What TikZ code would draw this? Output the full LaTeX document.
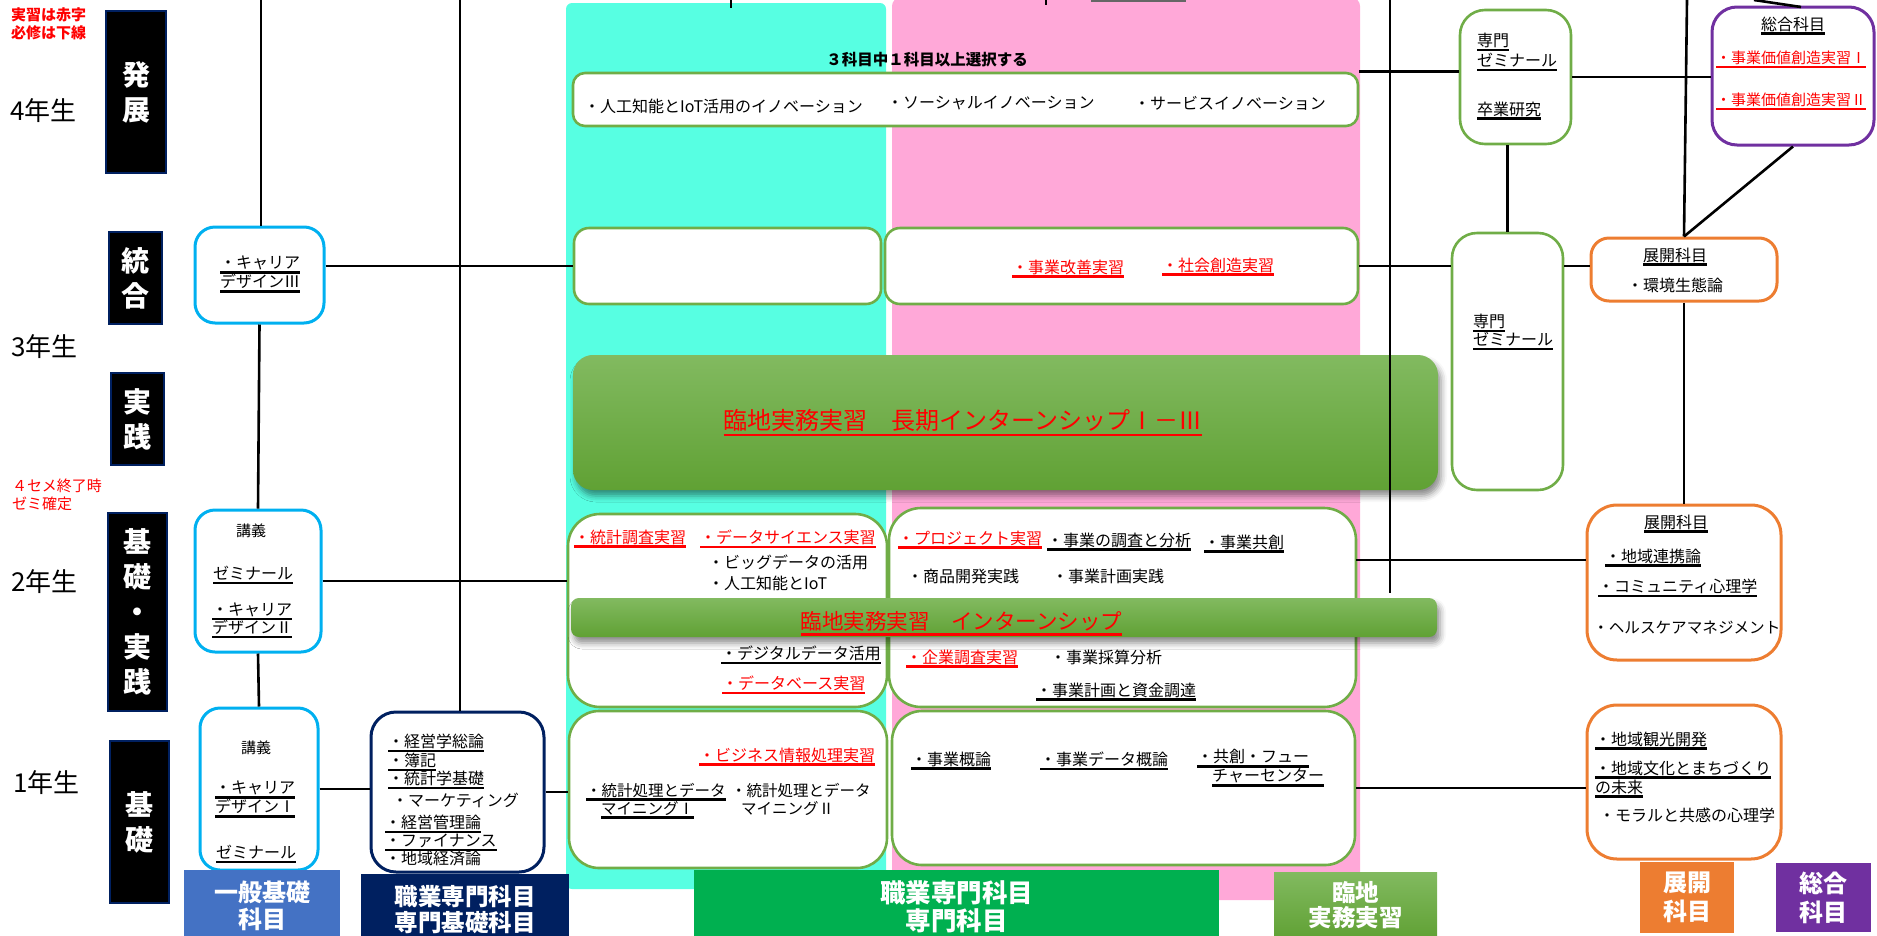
\documentclass[tikz,border=0pt]{standalone}
\usepackage{fontspec}
\setmainfont{Noto Sans CJK JP}
\usetikzlibrary{shadows,shadows.blur}
\definecolor{cyanP}{RGB}{87,255,226}
\definecolor{pinkP}{RGB}{255,168,216}
\definecolor{gB}{RGB}{112,173,71}
\definecolor{bB}{RGB}{0,176,240}
\definecolor{nB}{RGB}{0,32,96}
\definecolor{oB}{RGB}{237,125,49}
\definecolor{pB}{RGB}{112,48,160}
\definecolor{lbB}{RGB}{68,114,196}
\definecolor{gL}{RGB}{0,176,80}
\definecolor{gTop}{RGB}{130,186,96}
\definecolor{gBot}{RGB}{96,161,52}
\definecolor{rd}{RGB}{255,0,0}
\newcommand\ulx[1]{\leavevmode\setbox0=\hbox{#1}\rlap{\smash{\rule[-0.3em]{\wd0}{2.4pt}}}\box0}
\tikzset{
 bx/.style={draw, line width=2.6pt, fill=white, rectangle, inner sep=0},
 gbox/.style={bx, draw=gB},
 bbox/.style={bx, draw=bB, line width=3pt, rounded corners=20},
 nbox/.style={bx, draw=nB, line width=3pt, rounded corners=25},
 obox/.style={bx, draw=oB, line width=3pt},
 pbox/.style={bx, draw=pB, line width=3pt, rounded corners=25},
 kbox/.style={rectangle, fill=black, draw=nB, line width=1.5pt, inner sep=0, text=white, font=\fontsize{28}{35}\bfseries\selectfont, align=center},
 gbar/.style={rectangle, inner sep=0, top color=gTop, bottom color=gBot, blur shadow={shadow xshift=3pt, shadow yshift=-6pt, shadow blur radius=6pt, shadow opacity=45}},
 labbox/.style={rectangle, inner sep=0, text=white, font=\fontsize{24}{27}\bfseries\selectfont, align=center},
 tx/.style={inner sep=0, anchor=west, font=\fontsize{16}{19}\selectfont, align=left},
 txc/.style={tx, anchor=center, align=center},
 rt/.style={text=rd},
 yr/.style={inner sep=0, anchor=west, font=\fontsize{26}{30}\selectfont},
 ln/.style={line width=2.6pt, black},
}
\begin{document}
\begin{tikzpicture}[x=1pt,y=-1pt]
\useasboundingbox (0,0) rectangle (1877,935);
% column panels
\node[fill=cyanP, rounded corners=6, minimum width=320, minimum height=886, inner sep=0] (cyanpanel) at (726,446) {};
\node[fill=pinkP, rounded corners=8, minimum width=468, minimum height=902, inner sep=0] (pinkpanel) at (1126,449) {};
% stage boxes
\node[kbox, minimum width=60, minimum height=162] (kHatten) at (136,92) {発\\展};
\node[kbox, minimum width=53, minimum height=92] (kTougou) at (135.5,278) {統\\合};
\node[kbox, minimum width=53, minimum height=92] (kJissen) at (137.5,419) {実\\践};
\node[kbox, minimum width=59, minimum height=198] (kKJ) at (137.5,612) {基\\礎\\・\\実\\践};
\node[kbox, minimum width=59, minimum height=162] (kKiso) at (139.5,822) {基\\礎};
% notes and years
\node[tx, rt, font=\fontsize{15}{18.5}\bfseries\selectfont] (note1) at (11,24) {実習は赤字\\必修は下線};
\node[tx, rt, font=\fontsize{15}{18.5}\selectfont] (note2) at (12,495) {４セメ終了時\\ゼミ確定};
\node[yr] (y4) at (10,111) {4年生};
\node[yr] (y3) at (11,347) {3年生};
\node[yr] (y2) at (11,582) {2年生};
\node[yr] (y1) at (13,783) {1年生};
% general boxes
\node[bbox, minimum width=129, minimum height=96] (c3) at (259.5,275) {};
\node[bbox, minimum width=126, minimum height=142] (c2) at (258,581) {};
\node[bbox, minimum width=118, minimum height=162] (c1) at (259,789) {};
\node[nbox, minimum width=173, minimum height=160] (nv) at (457.5,792) {};
\node[tx] (c3t) at (220,272.5) {\ulx{・キャリア}\\\ulx{デザインⅢ}};
\node[txc, font=\fontsize{15}{19}\selectfont] (c2a) at (251,531) {講義};
\node[tx] (c2b) at (213,573) {\ulx{ゼミナール}};
\node[tx, font=\fontsize{16}{18}\selectfont] (c2c) at (212,618.5) {\ulx{・キャリア}\\\ulx{デザインⅡ}};
\node[txc, font=\fontsize{15}{19}\selectfont] (c1a) at (256,748) {講義};
\node[tx] (c1b) at (215,797.5) {\ulx{・キャリア}\\\ulx{デザインⅠ}};
\node[tx] (c1c) at (216,852) {\ulx{ゼミナール}};
\node[tx] (n1) at (388,741) {\ulx{・経営学総論}};
\node[tx] (n2) at (388,760) {\ulx{・簿記}};
\node[tx] (n3) at (388,778) {\ulx{・統計学基礎}};
\node[tx] (n4) at (392,800) {・マーケティング};
\node[tx] (n5) at (385,822) {\ulx{・経営管理論}};
\node[tx] (n6) at (385,841) {\ulx{・ファイナンス}};
\node[tx] (n7) at (385,858) {・地域経済論};
% column boxes
\node[gbox, rounded corners=12, minimum width=785, minimum height=53] (topB) at (965.5,99.5) {};
\node[gbox, rounded corners=15, minimum width=307, minimum height=76] (tgL) at (727.5,266) {};
\node[gbox, rounded corners=15, minimum width=473, minimum height=76] (tgR) at (1121.5,266) {};
\node[gbox, rounded corners=32, minimum width=319, minimum height=193] (y2L) at (727.5,610.5) {};
\node[gbox, rounded corners=32, minimum width=467, minimum height=199] (y2R) at (1122.5,607.5) {};
\node[gbox, rounded corners=30, minimum width=318, minimum height=157] (y1L) at (728,789.5) {};
\node[gbox, rounded corners=30, minimum width=463, minimum height=154] (y1R) at (1123.5,788) {};
\node[gbar, rounded corners=20, minimum width=865, minimum height=135] (longbar) at (1005.5,422.5) {};
\node[gbar, rounded corners=8, minimum width=866, minimum height=39] (intern) at (1004,617.5) {};
% column texts
\node[txc, font=\fontsize{15.5}{19}\bfseries\selectfont] (sel) at (927,60) {３科目中１科目以上選択する};
\node[tx] (i1) at (584,106) {・人工知能とIoT活用のイノベーション};
\node[tx] (i2) at (887,103) {・ソーシャルイノベーション};
\node[tx] (i3) at (1134,103) {・サービスイノベーション};
\node[tx, rt] (g1) at (1012,267) {\ulx{・事業改善実習}};
\node[tx, rt] (g2) at (1162,265) {\ulx{・社会創造実習}};
\node[txc, rt, font=\fontsize{24}{28}\selectfont] (barT) at (963,420) {\ulx{臨地実務実習　長期インターンシップⅠ－Ⅲ}};
\node[txc, rt, font=\fontsize{21.5}{26}\selectfont] (internT) at (961.5,621) {\ulx{臨地実務実習　インターンシップ}};
\node[tx, rt] (a1) at (574,537) {\ulx{・統計調査実習}};
\node[tx, rt] (a2) at (700,537) {\ulx{・データサイエンス実習}};
\node[tx] (a3) at (708,562) {・ビッグデータの活用};
\node[tx] (a4) at (708,583) {・人工知能とIoT};
\node[tx] (a5) at (721,653) {\ulx{・デジタルデータ活用}};
\node[tx, rt] (a6) at (722,683) {\ulx{・データベース実習}};
\node[tx, rt] (b1) at (898,538) {\ulx{・プロジェクト実習}};
\node[tx] (b2) at (1047,540) {\ulx{・事業の調査と分析}};
\node[tx] (b3) at (1204,542) {\ulx{・事業共創}};
\node[tx] (b4) at (907,576) {・商品開発実践};
\node[tx] (b5) at (1052,576) {・事業計画実践};
\node[tx, rt] (b6) at (906,657) {\ulx{・企業調査実習}};
\node[tx] (b7) at (1050,657) {・事業採算分析};
\node[tx] (b8) at (1036,690) {\ulx{・事業計画と資金調達}};
\node[tx, rt] (d1) at (699,755) {\ulx{・ビジネス情報処理実習}};
\node[tx, font=\fontsize{15.5}{18}\selectfont] (d2) at (586,799) {\ulx{・統計処理とデータ}\\\hspace*{15pt}\ulx{マイニングⅠ}};
\node[tx, font=\fontsize{15.5}{18}\selectfont] (d3) at (731,799) {・統計処理とデータ\\\hspace*{10pt}マイニングⅡ};
\node[tx] (e1) at (911,759) {\ulx{・事業概論}};
\node[tx] (e2) at (1040,759) {\ulx{・事業データ概論}};
\node[tx] (e3) at (1197,766.5) {\ulx{・共創・フュー}\\\hspace*{15pt}\ulx{チャーセンター}};
% right side boxes
\node[gbox, rounded corners=25, minimum width=111, minimum height=134] (zemi4) at (1515.5,77) {};
\node[gbox, rounded corners=25, minimum width=111, minimum height=257] (zemi3) at (1507.5,361.5) {};
\node[pbox, minimum width=162, minimum height=138] (sougou) at (1793,76) {};
\node[obox, rounded corners=18, minimum width=186, minimum height=63] (ten1) at (1684,269.5) {};
\node[obox, rounded corners=30, minimum width=194, minimum height=155] (ten2) at (1684,582.5) {};
\node[obox, rounded corners=30, minimum width=194, minimum height=154] (ten3) at (1684,782) {};
\node[tx, font=\fontsize{16}{20}\selectfont] (z4a) at (1477,50) {\ulx{専門}\\\ulx{ゼミナール}};
\node[tx] (z4b) at (1477,109) {\ulx{卒業研究}};
\node[tx, font=\fontsize{16}{18}\selectfont] (z3a) at (1473,330) {\ulx{専門}\\\ulx{ゼミナール}};
\node[txc] (sgT) at (1793,24) {\ulx{総合科目}};
\node[tx, rt, font=\fontsize{15}{18}\selectfont] (sg1) at (1716,58) {\ulx{・事業価値創造実習Ⅰ}};
\node[tx, rt, font=\fontsize{15}{18}\selectfont] (sg2) at (1716,100) {\ulx{・事業価値創造実習Ⅱ}};
\node[txc] (t1a) at (1675,255) {\ulx{展開科目}};
\node[tx] (t1b) at (1627,285) {・環境生態論};
\node[txc] (t2a) at (1676,522) {\ulx{展開科目}};
\node[tx] (t2b) at (1605,556) {\ulx{・地域連携論}};
\node[tx] (t2c) at (1598,586) {\ulx{・コミュニティ心理学}};
\node[tx, font=\fontsize{15.6}{19}\selectfont] (t2d) at (1593,628) {・ヘルスケアマネジメント};
\node[tx] (t3a) at (1595,739) {\ulx{・地域観光開発}};
\node[tx] (t3b) at (1595,777.5) {\ulx{・地域文化とまちづくり}\\\ulx{の未来}};
\node[tx] (t3c) at (1599,815) {・モラルと共感の心理学};
% category labels
\node[labbox, fill=lbB, minimum width=156, minimum height=72] (L1) at (262,906) {一般基礎\\科目};
\node[labbox, fill=nB, minimum width=208, minimum height=72, font=\fontsize{23.5}{26}\bfseries\selectfont] (L2) at (465,910) {職業専門科目\\専門基礎科目};
\node[labbox, fill=gL, minimum width=525, minimum height=74, font=\fontsize{25.5}{28}\bfseries\selectfont] (L3) at (956.5,907) {職業専門科目\\専門科目};
\node[labbox, top color=gTop, bottom color=gBot, minimum width=163, minimum height=67, font=\fontsize{23.5}{25}\bfseries\selectfont] (L4) at (1355.5,905.5) {臨地\\実務実習};
\node[labbox, fill=oB, minimum width=94, minimum height=71, font=\fontsize{24}{29}\bfseries\selectfont] (L5) at (1687,897.5) {展開\\科目};
\node[labbox, fill=pB, minimum width=95, minimum height=69, font=\fontsize{24}{29}\bfseries\selectfont] (L6) at (1823.5,897.5) {総合\\科目};
% free line ends
\coordinate (top261) at (261,0);
\coordinate (top460) at (460,0);
\coordinate (tick731) at (731,0);
\coordinate (tick731b) at (731,8);
\coordinate (tick1046) at (1046,0);
\coordinate (tick1046b) at (1046,5);
\coordinate (top1390) at (1390,0);
\coordinate (bot1390) at (1390,593);
\coordinate (top1686) at (1687,0);
\coordinate (diagA) at (1754,0);
\coordinate (diagB) at (1801,7);
\coordinate (ulA) at (1091,0.8);
\coordinate (ulB) at (1186,0.8);
\coordinate (r2) at (1356,560);
% connectors
\draw[ln] (top261) -- (top261 |- c3.north);
\draw[ln] (c3.south) -- (c2.north);
\draw[ln] (c2.south) -- (c1.north);
\draw[ln] (top460) -- (top460 |- nv.north);
\draw[ln] (c3.east |- tgL.west) -- (tgL.west);
\draw[ln] (c2.east) -- (c2.east -| y2L.west);
\draw[ln] (c1.east) -- (c1.east -| nv.west);
\draw[ln] (nv.east) -- (nv.east -| y1L.west);
\draw[ln] (tick731) -- (tick731b);
\draw[ln] (tick1046) -- (tick1046b);
\draw[line width=2pt, black!60] (ulA) -- (ulB);
\draw[ln] (topB.north east) -- (topB.north east -| zemi4.west);
\draw[ln] (zemi4.east) -- (zemi4.east -| sougou.west);
\draw[ln] (tgR.east) -- (tgR.east -| zemi3.west);
\draw[ln] (tgR.east -| zemi3.east) -- (tgR.east -| ten1.west);
\draw[ln] (zemi3.north |- zemi4.south) -- (zemi3.north);
\draw[ln] (top1390) -- (bot1390);
\draw[ln] (top1686) -- (ten1.north);
\draw[ln] (sougou.south) -- (ten1.north);
\draw[ln] (diagA) -- (diagB);
\draw[ln] (ten1.south) -- (ten2.north);
\draw[ln] (r2) -- (r2 -| ten2.west);
\draw[ln] (y1R.east) -- (y1R.east -| ten3.west);
\end{tikzpicture}
\end{document}
